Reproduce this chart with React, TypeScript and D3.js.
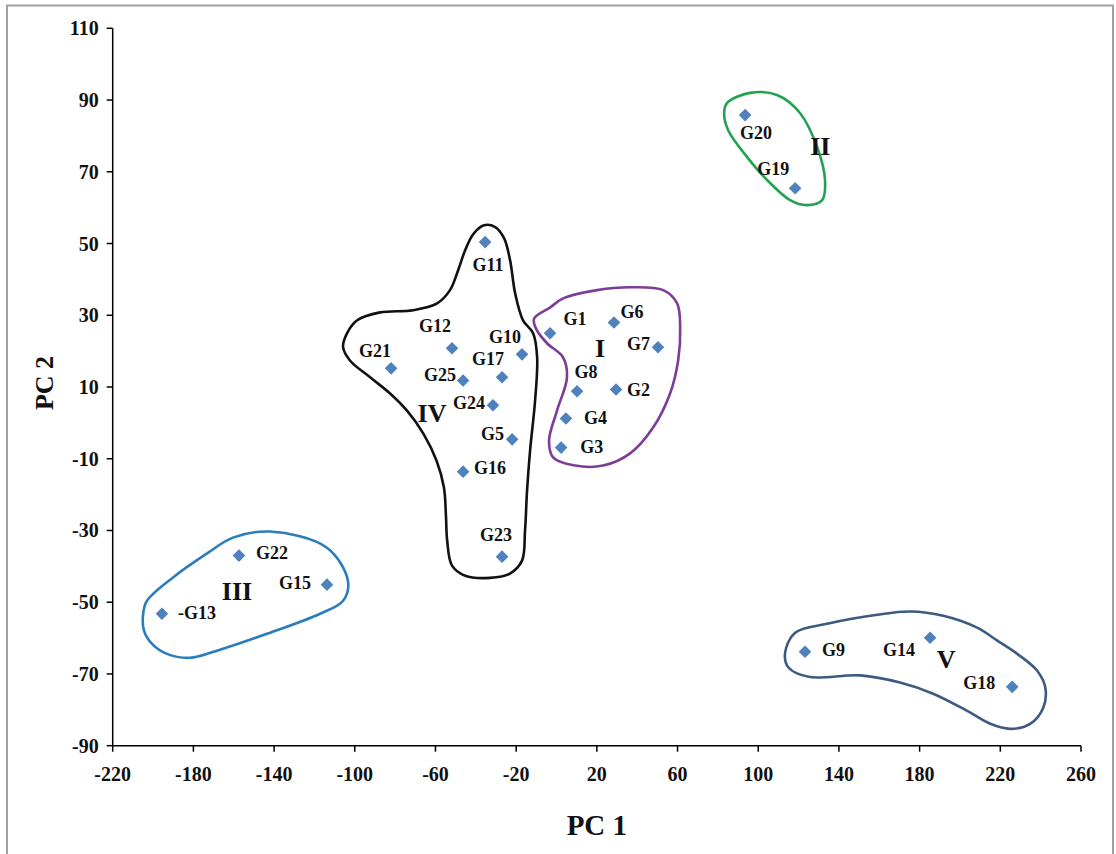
import React from "react";
import * as d3 from "d3";

// ---- data ----
const genotypes = ["G1","G2","G3","G4","G5","G6","G7","G8","G9","G10","G11","G12","G13","G14","G15","G16","G17","G18","G19","G20","G21","G22","G23","G24","G25"];
const pc1 = [-3.2, 29.5, 2.3, 4.7, -22, 28.5, 50.3, 10.2, 123.2, -17.1, -35.4, -51.8, -195.6, 185.2, -113.8, -46.3, -27, 225.9, 118.3, 93.5, -82, -157.4, -27, -31.5, -46.3];
const pc2 = [25.0, 9.3, -6.9, 1.2, -4.6, 28, 21.1, 8.8, -63.8, 19.1, 50.4, 20.8, -53.2, -59.9, -45.1, -13.6, 12.7, -73.6, 65.4, 85.8, 15.2, -37, -37.3, 4.9, 11.8];
const pointLabels = ["G1","G2","G3","G4","G5","G6","G7","G8","G9","G10","G11","G12","-G13","G14","G15","G16","G17","G18","G19","G20","G21","G22","G23","G24","G25"];

const xTicks = [-220,-180,-140,-100,-60,-20,20,60,100,140,180,220,260];
const yTicks = [110,90,70,50,30,10,-10,-30,-50,-70,-90];

// cluster names and outline (in PC units)
const clusterNames = ["I","II","III","IV","V"];
const clusterCenterX = [21.6, 130.8, -158.4, -61.7, 193.2];
const clusterCenterY = [20.8, 77.1, -46.8, 2.9, -65.7];
const outlineI: [number, number][] = [[-11.1,29.1],[-3.1,32.2],[3.3,34.7],[20.1,37.0],[36.5,37.8],[52.9,37.0],[59.8,33.3],[61.3,26.6],[60.3,17.4],[56.3,8.2],[47.9,-1.3],[36.5,-8.5],[23.1,-11.9],[9.2,-11.9],[-1.7,-9.6],[-3.7,-4.9],[0.3,3.5],[5.2,12.7],[3.2,18.3],[-4.7,22.2],[-10.1,26.2]];
const outlineII: [number, number][] = [[84.6,89.2],[96.0,92.0],[109.3,91.4],[120.7,86.4],[129.2,76.9],[133.1,67.7],[131.7,62.1],[124.2,60.7],[115.8,62.1],[104.4,67.7],[94.5,74.1],[85.1,81.6],[83.1,86.3]];
const outlineIII: [number, number][] = [[-142,-30.3],[-113.8,-34.8],[-103.4,-44],[-105.8,-49.6],[-117.2,-53.2],[-143.5,-58.8],[-168.3,-63.5],[-181.7,-65.5],[-193.1,-64.4],[-200.5,-61.6],[-204.5,-57.9],[-204.9,-53.2],[-203,-49.6],[-190.1,-43.1],[-173.2,-36.4],[-160.4,-32]];
const outlineIV: [number, number][] = [[-105.8,21.1],[-103.8,25],[-98.8,28.6],[-87.5,30.8],[-71.1,31.4],[-59.2,33.3],[-52.8,37],[-48.8,42.5],[-45.3,48.1],[-41.3,52.6],[-35.9,55.1],[-30.4,54.6],[-26,51.5],[-23,45.3],[-20.5,36.1],[-16.6,28.6],[-11.6,25],[-9.6,18.3],[-10.6,6.3],[-13.1,-7.7],[-14.6,-18.9],[-15.6,-30],[-17.1,-38.4],[-23.1,-42],[-33,-43.2],[-45.3,-42.6],[-51.8,-39.8],[-54.2,-32.8],[-54.8,-26],[-55.8,-18],[-59.5,-10.5],[-66,-3],[-74.1,3.4],[-82.5,8.2],[-92.4,12.7],[-102.4,17.4]];
const outlineV: [number, number][] = [[113.3,-64.1],[118.3,-58.5],[134.2,-56],[159,-53.5],[175.3,-52.6],[191.7,-53.8],[208.5,-57.1],[218.5,-60.7],[228.4,-64.4],[238.3,-69.1],[242.3,-73.8],[241.3,-79.4],[234.8,-83.9],[224.9,-85.3],[215,-83.9],[203.6,-80.3],[186.7,-75.5],[170.3,-72.4],[150.6,-70.4],[125,-70.8],[115,-68.2]];
const outlines = [outlineI, outlineII, outlineIII, outlineIV, outlineV];

// ---- styling / layout ----
const clusterColors = ["#7d3c98", "#22a251", "#2a7dbd", "#111111", "#3d5a80"];
// label placement relative to marker: [dx, dy, anchor]
const labelLayout: [number, number, string][] = [
  [25, -8, "middle"],   // G1
  [11, 6, "start"],     // G2
  [19, 5, "start"],     // G3
  [18, 5, "start"],     // G4
  [-8, 1, "end"],       // G5
  [18, -4, "middle"],   // G6
  [-8, 3, "end"],       // G7
  [9, -13, "middle"],   // G8
  [17, 4, "start"],     // G9
  [-17, -11, "middle"], // G10
  [3, 29, "middle"],    // G11
  [-17, -16, "middle"], // G12
  [16, 5, "start"],     // G13
  [-15, 18, "end"],     // G14
  [-16, 4, "end"],      // G15
  [11, 2, "start"],     // G16
  [-14, -12, "middle"], // G17
  [-17, 2, "end"],      // G18
  [-22, -13, "middle"], // G19
  [11, 24, "middle"],   // G20
  [-16, -11, "middle"], // G21
  [17, 3, "start"],     // G22
  [-6, -16, "middle"],  // G23
  [-8, 4, "end"],       // G24
  [-7, 0, "end"],       // G25
];

const W = 1116, H = 854;
const x = d3.scaleLinear().domain([-220, 260]).range([112.7, 1081]);
const y = d3.scaleLinear().domain([-90, 110]).range([745.7, 28.3]);
const serif = "'Liberation Serif', 'Times New Roman', serif";
const R = 6.3;
const diamondPath = `M0,${-R}L${R},0L0,${R}L${-R},0Z`;

export default function App() {
  const line = d3.line<[number, number]>()
    .x(d => x(d[0]))
    .y(d => y(d[1]))
    .curve(d3.curveCatmullRomClosed.alpha(0.5));

  return (
    <svg width={W} height={H} style={{ position: "absolute", left: 0, top: 0, background: "#fff" }}>
      <rect x={7} y={5.5} width={1106} height={860} fill="#fff" stroke="#a0a0a0" strokeWidth={2} />
      {outlines.map((o, i) => (
        <path key={"o" + i} d={line(o) || ""} fill="none" stroke={clusterColors[i]} strokeWidth={2.6} />
      ))}
      <line x1={x(-220)} x2={x(-220)} y1={y(110)} y2={y(-90)} stroke="#000" strokeWidth={1.5} />
      <line x1={x(-220)} x2={x(260)} y1={y(-90)} y2={y(-90)} stroke="#000" strokeWidth={1.5} />
      {yTicks.map(t => (
        <g key={"y" + t}>
          <line x1={x(-220) - 6} x2={x(-220)} y1={y(t)} y2={y(t)} stroke="#000" strokeWidth={1.5} />
          <text x={x(-220) - 14} y={y(t)} dy="0.35em" textAnchor="end" fontFamily={serif} fontWeight="bold" fontSize={20} fill="#111">{t}</text>
        </g>
      ))}
      {xTicks.map(t => (
        <g key={"x" + t}>
          <line x1={x(t)} x2={x(t)} y1={y(-90)} y2={y(-90) + 6} stroke="#000" strokeWidth={1.5} />
          <text x={x(t)} y={y(-90) + 35} textAnchor="middle" fontFamily={serif} fontWeight="bold" fontSize={20} fill="#111">{t}</text>
        </g>
      ))}
      <text x={(x(-220) + x(260)) / 2} y={835} textAnchor="middle" fontFamily={serif} fontWeight="bold" fontSize={29} fill="#111">PC 1</text>
      <text transform={`translate(53, ${(y(110) + y(-90)) / 2 - 4}) rotate(-90)`} textAnchor="middle" fontFamily={serif} fontWeight="bold" fontSize={26} fill="#111">PC 2</text>
      {genotypes.map((g, i) => (
        <path key={g} d={diamondPath} transform={`translate(${x(pc1[i])},${y(pc2[i])})`} fill="#4f81bd" />
      ))}
      {genotypes.map((g, i) => (
        <text key={"l" + g} x={x(pc1[i]) + labelLayout[i][0]} y={y(pc2[i]) + labelLayout[i][1]}
          textAnchor={labelLayout[i][2] as any} fontFamily={serif} fontWeight="bold" fontSize={18} fill="#111">{pointLabels[i]}</text>
      ))}
      {clusterNames.map((n, i) => (
        <text key={"c" + n} x={x(clusterCenterX[i])} y={y(clusterCenterY[i])} dy="0.35em" textAnchor="middle"
          fontFamily={serif} fontWeight="bold" fontSize={26} fill="#111">{n}</text>
      ))}
    </svg>
  );
}
